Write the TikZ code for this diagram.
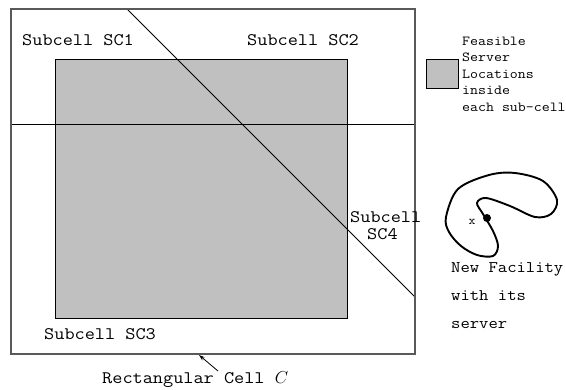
\documentclass[tikz,border=0pt]{standalone}
\usepackage{fontspec}
\setmonofont{Latin Modern Mono}[FakeStretch=1.12]
\usetikzlibrary{arrows.meta}
\definecolor{feasgray}{RGB}{192,192,192}
\tikzset{
  cellframe/.style={draw=black!65, line width=1.2pt},
  feasible/.style={draw=black, line width=0.9pt, fill=feasgray},
  divider/.style={draw=black, line width=0.9pt},
  lbl/.style={inner sep=0pt, font=\ttfamily\fontsize{17.6}{17}\selectfont},
  legend/.style={inner sep=0pt, anchor=base west, font=\ttfamily\fontsize{13.8}{16.5}\selectfont},
  facility/.style={inner sep=0pt, anchor=base west, font=\ttfamily\fontsize{16.2}{28}\selectfont},
}
\begin{document}
\begin{tikzpicture}[x=1pt, y=-1pt]
\useasboundingbox (0,0) rectangle (566,389);

% rectangular cell and the feasible region inside it
\draw[cellframe] (11,9) rectangle (415,354);
\draw[feasible] (55,59) rectangle (347,318);

% sub-cell boundaries
\coordinate (hl) at (11,124);
\coordinate (hr) at (415,124);
\coordinate (dtop) at (127,9);
\coordinate (dbot) at (415,297);
\draw[divider] (hl) -- (hr);
\draw[divider] (dtop) -- (dbot);
\draw[cellframe] (11,9) rectangle (415,354);

% sub-cell labels
\node[lbl, anchor=base west] (sc1) at (22,45) {Subcell SC1};
\node[lbl, anchor=base west] (sc2) at (247,45) {Subcell SC2};
\node[lbl, anchor=base west] (sc3) at (44,339) {Subcell SC3};
\node[lbl, anchor=base west] (sc4a) at (350,222) {Subcell};
\node[lbl, anchor=base west] (sc4b) at (367,239) {SC4};

% cell caption with pointer
\node[lbl, anchor=base west] (rc) at (102,383) {Rectangular Cell \fontsize{17}{17}\selectfont$C$};
\coordinate (rcfrom) at (218,371);
\coordinate (celledge) at (199,355);
\draw[line width=0.8pt, -{Stealth[length=6pt, width=4pt]}] (rcfrom) -- (celledge);

% legend
\node[feasible, minimum width=32pt, minimum height=29pt, inner sep=0pt, line width=1pt] (key) at (442,73.5) {};
\node[legend] (k1) at (462,45) {Feasible};
\node[legend] (k2) at (462,61.5) {Server};
\node[legend] (k3) at (462,78) {Locations};
\node[legend] (k4) at (462,94.5) {inside};
\node[legend] (k5) at (462,111) {each sub-cell};

% new facility outline with its server
\draw[line width=1.9pt, line join=round] plot[smooth cycle, tension=0.55] coordinates {
  (446,217) (458,189) (489,175) (515,173) (543,181) (557,200) (551,214)
  (535,217) (510,206) (486,198) (477,203) (483,214) (493,231) (498,246)
  (493,256) (477,255) (461,246) (449,232)};
\node[circle, fill=black, inner sep=0pt, minimum size=8pt] (srv) at (487,218) {};
\node[inner sep=0pt, font=\ttfamily\fontsize{12}{12}\selectfont] (xmark) at (472,222) {x};
\node[facility] (f1) at (451,272) {New Facility};
\node[facility] (f2) at (451,300) {with its};
\node[facility] (f3) at (451,328) {server};
\end{tikzpicture}
\end{document}
